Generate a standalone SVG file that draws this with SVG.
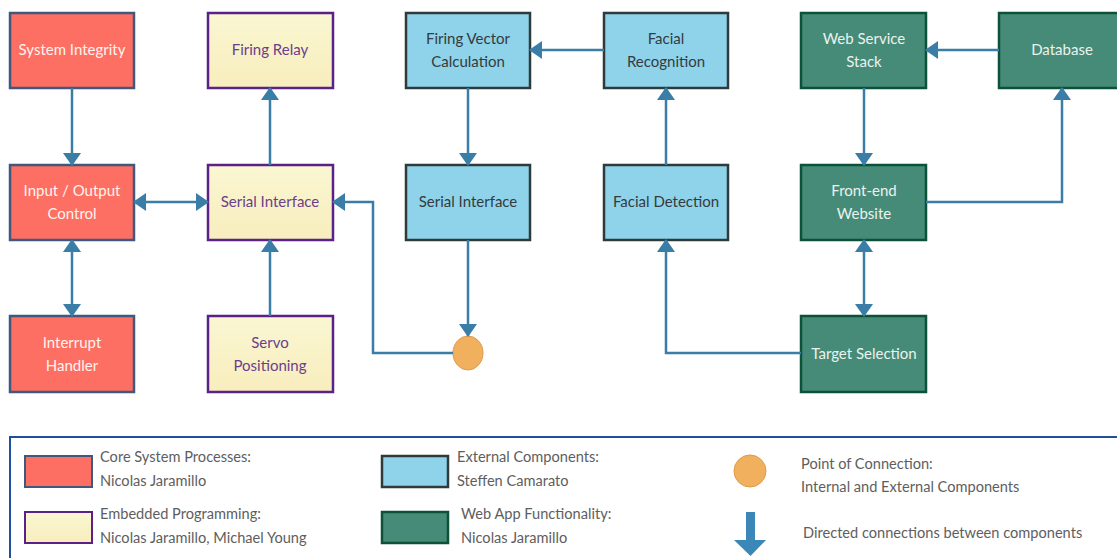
<svg xmlns="http://www.w3.org/2000/svg" width="1117" height="558" viewBox="0 0 1117 558">
  <defs>
    <linearGradient id="yellowFill" x1="0" y1="0" x2="0" y2="1">
      <stop offset="0" stop-color="#faf7d2"/>
      <stop offset="1" stop-color="#f8edbd"/>
    </linearGradient>
    <marker id="arrow" markerUnits="userSpaceOnUse" markerWidth="13" markerHeight="18" refX="12" refY="9" orient="auto-start-reverse">
      <path d="M0,0 L13,9 L0,18 Z" fill="#3a7ea8"/>
    </marker>
  </defs>
  <style>
    text { font-family: Lato, "Open Sans", "Liberation Sans", sans-serif; font-size: 15px; text-anchor: middle; }
    .core rect { fill: #fd6e63; stroke: #40587d; stroke-width: 2.5; }
    .core text { fill: #fff4ef; }
    .emb rect { fill: url(#yellowFill); stroke: #5a2189; stroke-width: 2.5; }
    .emb text { fill: #6a3f8c; }
    .ext rect { fill: #8fd3ea; stroke: #2f3a3a; stroke-width: 2.5; }
    .ext text { fill: #333b3e; }
    .web rect { fill: #468b78; stroke: #0c5138; stroke-width: 2.5; }
    .web text { fill: #eaf2ee; }
    .conn { fill: none; stroke: #3a7ea8; stroke-width: 2.5; }
    .legend text { text-anchor: start; fill: #5e5e5e; font-size: 14.6px; }
  </style>

  <!-- Core system processes -->
  <g id="system-integrity" class="core">
    <rect x="10" y="13" width="124" height="75"/>
    <text x="72" y="55">System Integrity</text>
  </g>
  <g id="io-control" class="core">
    <rect x="10" y="165" width="124" height="75"/>
    <text x="72" y="196">Input / Output</text>
    <text x="72" y="219">Control</text>
  </g>
  <g id="interrupt-handler" class="core">
    <rect x="10" y="316" width="124" height="76"/>
    <text x="72" y="348">Interrupt</text>
    <text x="72" y="371">Handler</text>
  </g>

  <!-- Embedded programming -->
  <g id="firing-relay" class="emb">
    <rect x="208" y="13" width="125" height="75"/>
    <text x="270" y="55">Firing Relay</text>
  </g>
  <g id="serial-interface-embedded" class="emb">
    <rect x="208" y="165" width="125" height="75"/>
    <text x="270" y="207">Serial Interface</text>
  </g>
  <g id="servo-positioning" class="emb">
    <rect x="208" y="316" width="125" height="76"/>
    <text x="270" y="348">Servo</text>
    <text x="270" y="371">Positioning</text>
  </g>

  <!-- External components -->
  <g id="firing-vector" class="ext">
    <rect x="406" y="13" width="124" height="75"/>
    <text x="468" y="44">Firing Vector</text>
    <text x="468" y="67">Calculation</text>
  </g>
  <g id="serial-interface-external" class="ext">
    <rect x="406" y="165" width="124" height="75"/>
    <text x="468" y="207">Serial Interface</text>
  </g>
  <g id="facial-recognition" class="ext">
    <rect x="604" y="13" width="124" height="75"/>
    <text x="666" y="44">Facial</text>
    <text x="666" y="67">Recognition</text>
  </g>
  <g id="facial-detection" class="ext">
    <rect x="604" y="165" width="124" height="75"/>
    <text x="666" y="207">Facial Detection</text>
  </g>

  <!-- Web app functionality -->
  <g id="web-service-stack" class="web">
    <rect x="801" y="13" width="125" height="75"/>
    <text x="864" y="44">Web Service</text>
    <text x="864" y="67">Stack</text>
  </g>
  <g id="database" class="web">
    <rect x="999" y="13" width="125" height="75"/>
    <text x="1062" y="55">Database</text>
  </g>
  <g id="front-end-website" class="web">
    <rect x="801" y="165" width="125" height="75"/>
    <text x="864" y="196">Front-end</text>
    <text x="864" y="219">Website</text>
  </g>
  <g id="target-selection" class="web">
    <rect x="801" y="316" width="125" height="76"/>
    <text x="864" y="359">Target Selection</text>
  </g>

  <!-- Point of connection -->
  <g id="connection-point">
    <ellipse cx="468" cy="353" rx="15" ry="17" fill="#f0b05e" stroke="#e09a48" stroke-width="1"/>
  </g>

  <!-- Connectors -->
  <g id="connectors">
    <path class="conn" d="M72,88 V165" marker-end="url(#arrow)"/>
    <path class="conn" d="M134,202 H208" marker-start="url(#arrow)" marker-end="url(#arrow)"/>
    <path class="conn" d="M72,240 V316" marker-start="url(#arrow)" marker-end="url(#arrow)"/>
    <path class="conn" d="M270,165 V88" marker-end="url(#arrow)"/>
    <path class="conn" d="M270,316 V240" marker-end="url(#arrow)"/>
    <path class="conn" d="M453,353 H373 V202 H333" marker-end="url(#arrow)"/>
    <path class="conn" d="M468,240 V336" marker-end="url(#arrow)"/>
    <path class="conn" d="M468,88 V165" marker-end="url(#arrow)"/>
    <path class="conn" d="M604,50 H530" marker-end="url(#arrow)"/>
    <path class="conn" d="M666,165 V88" marker-end="url(#arrow)"/>
    <path class="conn" d="M801,353 H666 V240" marker-end="url(#arrow)"/>
    <path class="conn" d="M999,50 H926" marker-end="url(#arrow)"/>
    <path class="conn" d="M864,88 V165" marker-end="url(#arrow)"/>
    <path class="conn" d="M926,202 H1062 V88" marker-end="url(#arrow)"/>
    <path class="conn" d="M864,240 V316" marker-start="url(#arrow)" marker-end="url(#arrow)"/>
  </g>

  <!-- Legend -->
  <g id="legend" class="legend">
    <rect x="10" y="437" width="1120" height="130" fill="#ffffff" stroke="#1f4f9c" stroke-width="2"/>
    <rect x="25" y="456" width="67" height="31" fill="#fd6e63" stroke="#40587d" stroke-width="2"/>
    <text x="100" y="462">Core System Processes:</text>
    <text x="100" y="486">Nicolas Jaramillo</text>
    <rect x="25" y="512" width="67" height="31" fill="url(#yellowFill)" stroke="#5a2189" stroke-width="2"/>
    <text x="100" y="519">Embedded Programming:</text>
    <text x="100" y="543">Nicolas Jaramillo, Michael Young</text>
    <rect x="382" y="456" width="66" height="31" fill="#8fd3ea" stroke="#2f3a3a" stroke-width="2.5"/>
    <text x="457" y="462">External Components:</text>
    <text x="457" y="486">Steffen Camarato</text>
    <rect x="382" y="512" width="66" height="31" fill="#468b78" stroke="#0c5138" stroke-width="2.5"/>
    <text x="461" y="519">Web App Functionality:</text>
    <text x="461" y="543">Nicolas Jaramillo</text>
    <circle cx="750" cy="471" r="16" fill="#f0b05e" stroke="#e09a48" stroke-width="1"/>
    <text x="801" y="469">Point of Connection:</text>
    <text x="801" y="492">Internal and External Components</text>
    <path d="M746,512 H755 V540 H766 L750.5,556 L734,540 H746 Z" fill="#3b87b8"/>
    <text x="803" y="538">Directed connections between components</text>
  </g>
</svg>
